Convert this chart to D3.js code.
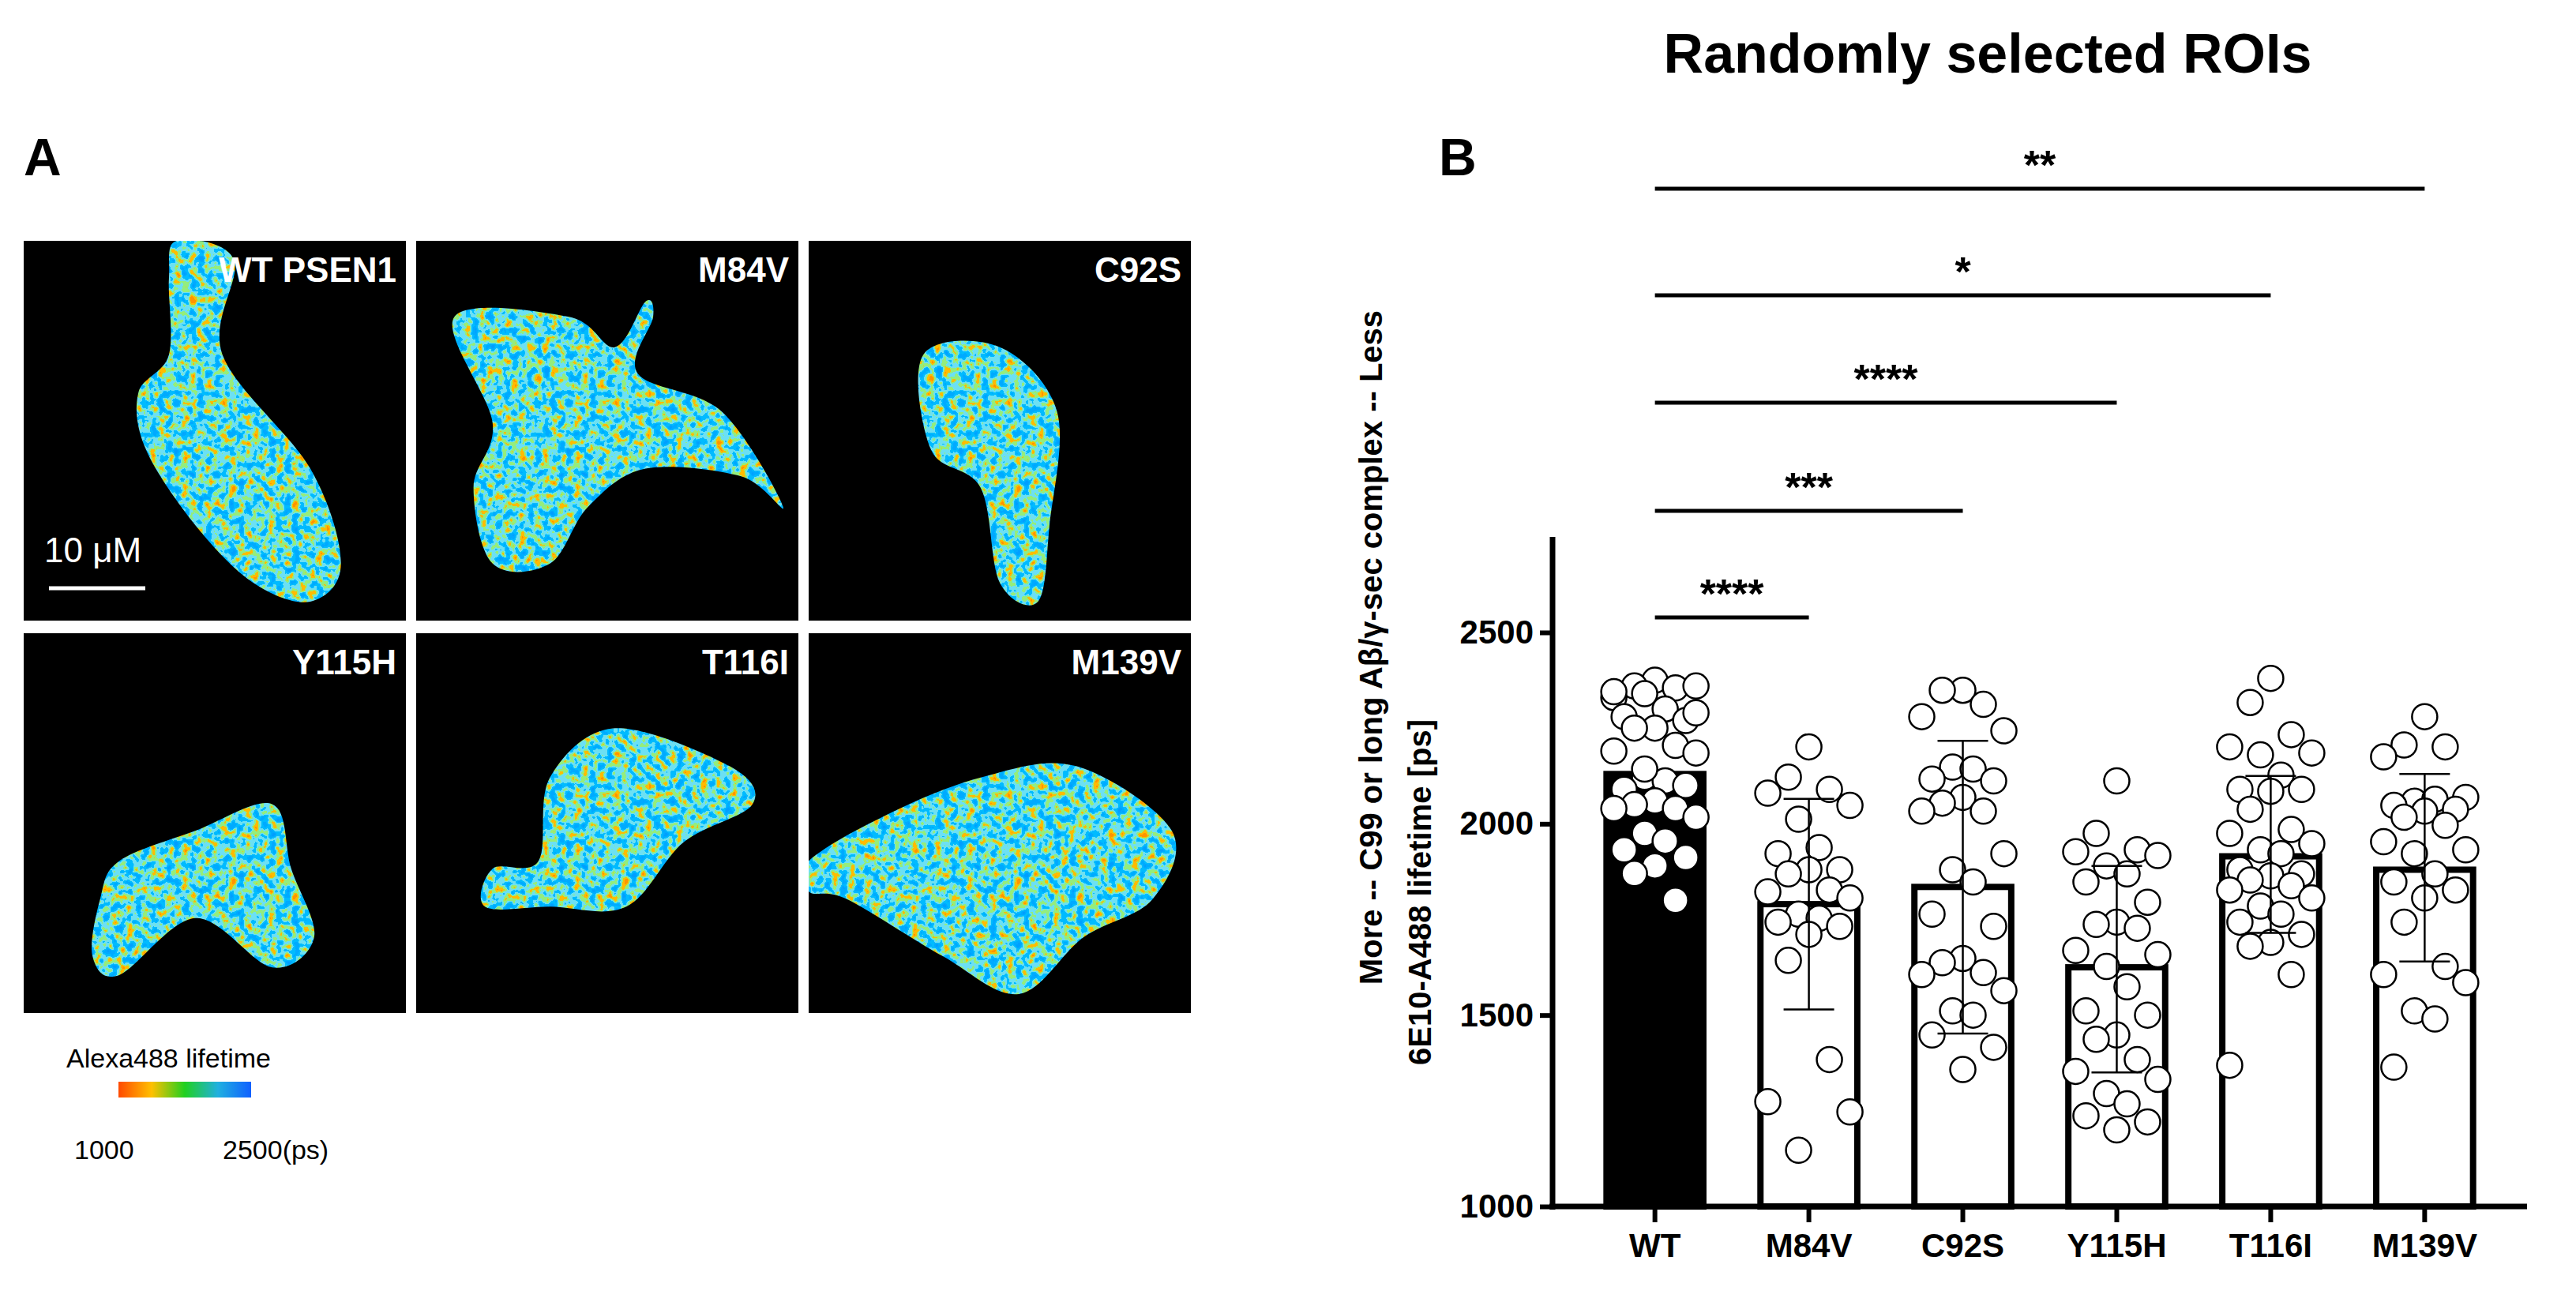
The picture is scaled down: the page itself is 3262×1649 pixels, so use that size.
<!DOCTYPE html>
<html>
<head>
<meta charset="utf-8">
<script src="https://cdn.jsdelivr.net/npm/d3@7"></script>
<style>
  body { margin: 0; background: #fff; }
  text { font-family: Arial, "Liberation Sans", sans-serif; }
</style>
</head>
<body>
<script>
// chart data
var groups = ["WT", "M84V", "C92S", "Y115H", "T116I", "M139V"];
var means = [2130, 1790, 1835, 1625, 1915, 1880];
var sdLow = [1930, 1515, 1452, 1350, 1715, 1640];
var sdHigh = [2330, 2065, 2217, 1890, 2125, 2130];
var yTicks = [1000, 1500, 2000, 2500];

var ptsWT = [2375,2360,2355,2330,2360,2340,2300,2280,2270,2250,2250,2205,2190,2185,2122,2112,2090,2100,2060,2050,2040,2040,2017,1975,1955,1932,1912,1890,1870,1800,2345,2290,2143];
var ptsM84V = [2201,2122,2090,2080,2048,2012,1938,1922,1880,1880,1869,1827,1822,1806,1764,1753,1743,1732,1711,1643,1384,1274,1247,1147];
var ptsC92S = [2349,2349,2312,2280,2243,2148,2143,2117,2112,2069,2054,2033,2033,1922,1880,1848,1764,1732,1648,1637,1611,1606,1564,1511,1500,1448,1416,1358];
var ptsY115H = [2112,1975,1932,1927,1917,1890,1869,1848,1795,1743,1737,1727,1669,1658,1627,1574,1511,1500,1448,1437,1384,1353,1332,1295,1268,1237,1221,1200];
var ptsT116I = [2380,2317,2233,2201,2185,2180,2127,2090,2090,2085,2038,1985,1975,1948,1932,1922,1880,1869,1864,1853,1838,1827,1806,1785,1764,1743,1711,1690,1680,1606,1369];
var ptsM139V = [2280,2206,2201,2175,2069,2059,2064,2048,2038,2033,2017,1996,1953,1932,1922,1869,1848,1827,1806,1743,1627,1606,1585,1511,1490,1364];
var points = [ptsWT, ptsM84V, ptsC92S, ptsY115H, ptsT116I, ptsM139V];

// significance brackets: WT vs target group
var sigTargets = ["M139V", "T116I", "Y115H", "C92S", "M84V"];
var sigLabels = ["**", "*", "****", "***", "****"];

var panelLabels = ["WT PSEN1", "M84V", "C92S", "Y115H", "T116I", "M139V"];

var W = 3262, H = 1649;
var svg = d3.select("body").append("svg").attr("width", W).attr("height", H);

// ---------- panel A: lifetime images ----------
var defs = svg.append("defs");
var filt = defs.append("filter").attr("id", "speck").attr("x", 0).attr("y", 0).attr("width", 1).attr("height", 1);
filt.append("feTurbulence").attr("type", "fractalNoise").attr("baseFrequency", 0.1).attr("numOctaves", 2).attr("seed", 3);
filt.append("feColorMatrix").attr("type", "matrix")
    .attr("values", "1 0 0 0 0  1 0 0 0 0  1 0 0 0 0  0 0 0 0 1");
var ct = filt.append("feComponentTransfer");
ct.append("feFuncR").attr("type", "discrete").attr("tableValues", "0 0 0 0 0.15 0.3 1 1 1");
ct.append("feFuncG").attr("type", "discrete").attr("tableValues", "0.35 0.35 0.4 0.5 0.75 0.85 0.5 0.3 0.3");
ct.append("feFuncB").attr("type", "discrete").attr("tableValues", "1 1 1 1 0.9 0.2 0 0 0");

// rough cell outlines (fractions of a panel)
var shapes = [
  [[0.4,0],[0.55,0.05],[0.52,0.3],[0.75,0.6],[0.83,0.85],[0.75,0.95],[0.6,0.9],[0.45,0.75],[0.32,0.55],[0.3,0.4],[0.38,0.3],[0.38,0.1]],
  [[0.1,0.2],[0.4,0.2],[0.52,0.28],[0.6,0.16],[0.62,0.2],[0.58,0.35],[0.8,0.45],[0.96,0.7],[0.85,0.62],[0.6,0.6],[0.45,0.7],[0.35,0.85],[0.2,0.85],[0.15,0.65],[0.2,0.48]],
  [[0.3,0.3],[0.5,0.28],[0.65,0.45],[0.63,0.75],[0.6,0.95],[0.5,0.9],[0.45,0.65],[0.32,0.55]],
  [[0.25,0.6],[0.45,0.52],[0.65,0.45],[0.7,0.62],[0.76,0.8],[0.65,0.88],[0.45,0.75],[0.25,0.9],[0.18,0.85],[0.2,0.7]],
  [[0.35,0.38],[0.52,0.25],[0.82,0.35],[0.88,0.45],[0.7,0.55],[0.55,0.72],[0.35,0.72],[0.18,0.72],[0.2,0.62],[0.32,0.6]],
  [[0,0.6],[0.2,0.48],[0.45,0.38],[0.7,0.35],[0.95,0.52],[0.9,0.7],[0.72,0.8],[0.55,0.95],[0.35,0.85],[0.1,0.7],[0,0.68]]
];

var pw = 484, ph = 481, px0 = 30, py0 = 305, pstep = 497;
panelLabels.forEach(function(lab, i){
  var col = i % 3, row = Math.floor(i / 3);
  var gx = px0 + col * pstep, gy = py0 + row * pstep;
  var g = svg.append("g").attr("transform", "translate(" + gx + "," + gy + ")");
  g.append("rect").attr("width", pw).attr("height", ph).attr("fill", "#000");
  defs.append("clipPath").attr("id", "cell" + i)
    .append("path").attr("d", d3.line().curve(d3.curveCardinalClosed)(shapes[i].map(function(p){ return [p[0] * pw, p[1] * ph]; })));
  g.append("rect").attr("width", pw).attr("height", ph)
    .attr("filter", "url(#speck)").attr("clip-path", "url(#cell" + i + ")");
  g.append("text").attr("x", pw - 12).attr("y", 52).attr("text-anchor", "end")
    .attr("fill", "#fff").attr("font-weight", "bold").attr("font-size", 44).text(lab);
});
// scale bar
svg.append("line").attr("x1", 62).attr("x2", 184).attr("y1", 745).attr("y2", 745)
  .attr("stroke", "#fff").attr("stroke-width", 5);
svg.append("text").attr("x", 56).attr("y", 712).attr("fill", "#fff").attr("font-size", 44).text("10 \u03bcM");

// colour bar
var grad = defs.append("linearGradient").attr("id", "cbar");
[["0%", "#ff4a00"], ["25%", "#ffc000"], ["50%", "#20d020"], ["75%", "#20b0e0"], ["100%", "#1060ff"]]
  .forEach(function(s){ grad.append("stop").attr("offset", s[0]).attr("stop-color", s[1]); });
svg.append("text").attr("x", 84).attr("y", 1352).attr("font-size", 34).text("Alexa488 lifetime");
svg.append("rect").attr("x", 150).attr("y", 1370).attr("width", 168).attr("height", 20).attr("fill", "url(#cbar)");
svg.append("text").attr("x", 94).attr("y", 1468).attr("font-size", 34).text("1000");
svg.append("text").attr("x", 282).attr("y", 1468).attr("font-size", 34).text("2500(ps)");

svg.append("text").attr("x", 30).attr("y", 222).attr("font-size", 66).attr("font-weight", "bold").text("A");

// ---------- panel B: bar chart ----------
var x0 = 1966, x1 = 3200, yTop = 680, yBot = 1528;
var x = d3.scaleBand().domain(groups).range([x0, x1]).paddingInner(0.33).paddingOuter(0.33);
var y = d3.scaleLinear().domain([1000, 2500]).range([yBot, 801]);

var chart = svg.append("g");
chart.selectAll(".bar").data(groups).enter().append("rect")
  .attr("x", function(d){ return x(d) + 4; })
  .attr("y", function(d, i){ return y(means[i]); })
  .attr("width", x.bandwidth() - 8)
  .attr("height", function(d, i){ return yBot - y(means[i]); })
  .attr("fill", function(d, i){ return i === 0 ? "#000" : "#fff"; })
  .attr("stroke", "#000").attr("stroke-width", 8);

// points, spread sideways in a fixed pattern
var offs = [0, -1, 1, -2, 2, -0.5, 0.5, -1.5, 1.5];
points.forEach(function(arr, gi){
  var cx = x(groups[gi]) + x.bandwidth() / 2;
  chart.selectAll(".pt" + gi).data(arr).enter().append("circle")
    .attr("cx", function(d, j){ return cx + offs[j % offs.length] * 26; })
    .attr("cy", function(d){ return y(d); })
    .attr("r", 16)
    .attr("fill", "#fff").attr("stroke", "#000").attr("stroke-width", 2.5);
});

// error bars
groups.forEach(function(g, i){
  if (i === 0) return;
  var cx = x(g) + x.bandwidth() / 2;
  var eb = chart.append("g").attr("stroke", "#000").attr("stroke-width", 2.5);
  eb.append("line").attr("x1", cx).attr("x2", cx).attr("y1", y(sdLow[i])).attr("y2", y(sdHigh[i]));
  [sdLow[i], sdHigh[i]].forEach(function(v){
    eb.append("line").attr("x1", cx - 32).attr("x2", cx + 32).attr("y1", y(v)).attr("y2", y(v));
  });
});

// axes
var yAxis = chart.append("g").attr("transform", "translate(" + x0 + ",0)")
  .call(d3.axisLeft(y).tickValues(yTicks).tickFormat(d3.format("d")).tickSize(16).tickPadding(8));
yAxis.select(".domain").remove();
chart.append("line").attr("x1", x0).attr("x2", x0).attr("y1", yTop).attr("y2", yBot + 4)
  .attr("stroke", "#000").attr("stroke-width", 7);
var xAxis = chart.append("g").attr("transform", "translate(0," + yBot + ")")
  .call(d3.axisBottom(x).tickSize(20).tickPadding(14));
xAxis.select(".domain").remove();
chart.append("line").attr("x1", x0 - 4).attr("x2", x1).attr("y1", yBot).attr("y2", yBot)
  .attr("stroke", "#000").attr("stroke-width", 7);
[yAxis, xAxis].forEach(function(a){
  a.selectAll("line").attr("stroke-width", 6);
  a.selectAll("text").attr("font-size", 42).attr("font-weight", "bold").attr("font-family", "Arial, 'Liberation Sans', sans-serif");
});

// significance lines
var sigY = [239, 374, 510, 647, 782];
sigTargets.forEach(function(t, i){
  var xa = x("WT") + x.bandwidth() / 2, xb = x(t) + x.bandwidth() / 2;
  chart.append("line").attr("x1", xa).attr("x2", xb).attr("y1", sigY[i]).attr("y2", sigY[i])
    .attr("stroke", "#000").attr("stroke-width", 5);
  chart.append("text").attr("x", (xa + xb) / 2).attr("y", sigY[i] - 12).attr("text-anchor", "middle")
    .attr("font-size", 52).attr("font-weight", "bold").text(sigLabels[i]);
});

// labels
svg.append("text").attr("transform", "translate(1812,1130) rotate(-90)").attr("text-anchor", "middle")
  .attr("font-size", 40).attr("font-weight", "bold").text("6E10-A488 lifetime [ps]");
svg.append("text").attr("transform", "translate(1750,820) rotate(-90)").attr("text-anchor", "middle")
  .attr("font-size", 40).attr("font-weight", "bold").text("More -- C99 or long A\u03b2/\u03b3-sec complex -- Less");
svg.append("text").attr("x", 2517).attr("y", 92).attr("text-anchor", "middle")
  .attr("font-size", 70).attr("font-weight", "bold").text("Randomly selected ROIs");
svg.append("text").attr("x", 1822).attr("y", 222).attr("font-size", 66).attr("font-weight", "bold").text("B");
</script>
</body>
</html>
